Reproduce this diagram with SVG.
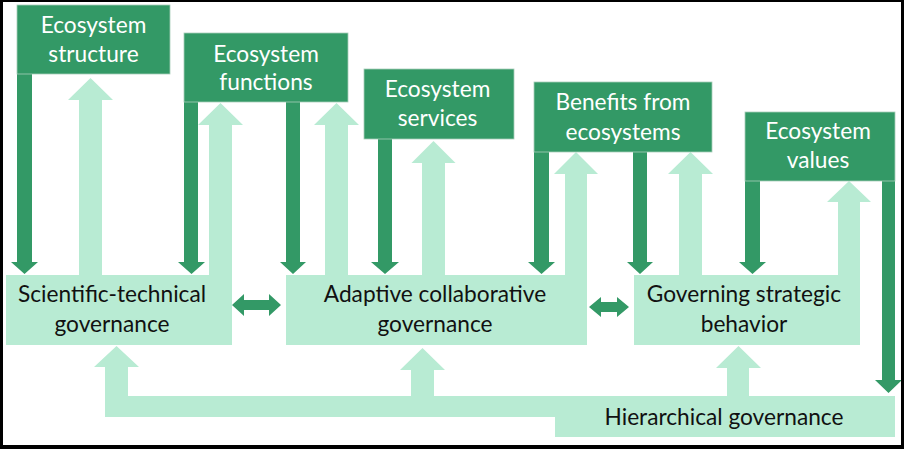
<svg xmlns="http://www.w3.org/2000/svg" width="904" height="449" viewBox="0 0 904 449">
  <style>
    .dark { fill: #339966; }
    .light { fill: #B8EBD3; }
    .box-dark { fill: #339966; stroke: #A9CDB9; stroke-width: 0.8; }
    .box-light { fill: #B8EBD3; }
    text { font-family: Lato, "Open Sans", "Liberation Sans", sans-serif; font-size: 22.7px; text-anchor: middle; }
    .tw { fill: #FFFFFF; }
    .tb { fill: #111111; }
  </style>
  <rect x="0" y="0" width="904" height="449" fill="#FFFFFF"/>

  <g id="connectors">
    <!-- light up arrows -->
    <path class="light" d="M79 275 V100 H68 L90.5 78 L113 100 H102 V275 Z"/>
    <path class="light" d="M209 345 V125 H198 L220.5 103 L243 125 H232 V345 Z"/>
    <path class="light" d="M325 275 V125 H314 L336.5 103 L359 125 H348 V275 Z"/>
    <path class="light" d="M422 275 V163 H411.5 L433.5 141 L455.5 163 H445 V275 Z"/>
    <path class="light" d="M565 275 V174 H554 L576 152 L598 174 H587 V275 Z"/>
    <path class="light" d="M679 275 V174 H668 L690.5 152 L713 174 H702 V275 Z"/>
    <path class="light" d="M838 275 V202 H827 L849 181 L871 202 H860 V275 Z"/>
    <path class="light" d="M105 417 V367 H94 L116.5 346 L139 367 H128 V396 H556 V417 Z"/>
    <path class="light" d="M411 397 V370 H400 L422.5 348 L445 370 H434 V397 Z"/>
    <path class="light" d="M727 397 V368 H716 L738.5 346 L761 368 H749 V397 Z"/>
    <!-- dark down arrows -->
    <path class="dark" d="M17 74 H32 V262 H38 L24.5 274 L11 262 H17 Z"/>
    <path class="dark" d="M184 102 H198 V262 H205 L191.5 274 L178 262 H184 Z"/>
    <path class="dark" d="M286 102 H300 V262 H306 L293 274 L280 262 H286 Z"/>
    <path class="dark" d="M378 139 H392 V262 H399 L385 274 L371 262 H378 Z"/>
    <path class="dark" d="M534 152 H549 V262 H555 L541.5 274 L528 262 H534 Z"/>
    <path class="dark" d="M633 152 H647 V262 H653 L640 274 L627 262 H633 Z"/>
    <path class="dark" d="M745 181 H760 V262 H766 L752.5 274 L739 262 H745 Z"/>
    <path class="dark" d="M882 181 H895 V380 H902 L888.5 393 L875 380 H882 Z"/>
    <!-- double arrows -->
    <path class="dark" d="M232 305 L244 294 V300 H269 V294 L281 305 L269 316 V310 H244 V316 Z"/>
    <path class="dark" d="M589 307 L601 297 V302 H617 V297 L629 307 L617 317 V312 H601 V317 Z"/>
  </g>

  <g id="ecosystem-structure">
    <rect class="box-dark" x="17" y="5" width="153" height="69"/>
    <text class="tw" x="93.5" y="33">Ecosystem</text>
    <text class="tw" x="93.5" y="62">structure</text>
  </g>
  <g id="ecosystem-functions">
    <rect class="box-dark" x="184" y="33" width="164" height="69"/>
    <text class="tw" x="266" y="62">Ecosystem</text>
    <text class="tw" x="266" y="90">functions</text>
  </g>
  <g id="ecosystem-services">
    <rect class="box-dark" x="364" y="69" width="150" height="70"/>
    <text class="tw" x="437.5" y="97">Ecosystem</text>
    <text class="tw" x="437.5" y="126">services</text>
  </g>
  <g id="benefits-from-ecosystems">
    <rect class="box-dark" x="534" y="82" width="178" height="70"/>
    <text class="tw" x="623" y="110">Benefits from</text>
    <text class="tw" x="623" y="140">ecosystems</text>
  </g>
  <g id="ecosystem-values">
    <rect class="box-dark" x="745" y="112" width="150" height="69"/>
    <text class="tw" x="818" y="139">Ecosystem</text>
    <text class="tw" x="818" y="168">values</text>
  </g>

  <g id="scientific-technical-governance">
    <rect class="box-light" x="6" y="275" width="226" height="70"/>
    <text class="tb" x="112" y="302">Scientific-technical</text>
    <text class="tb" x="112" y="332">governance</text>
  </g>
  <g id="adaptive-collaborative-governance">
    <rect class="box-light" x="286" y="275" width="301" height="70"/>
    <text class="tb" x="435" y="302">Adaptive collaborative</text>
    <text class="tb" x="435" y="332">governance</text>
  </g>
  <g id="governing-strategic-behavior">
    <rect class="box-light" x="634" y="275" width="226" height="70"/>
    <text class="tb" x="744" y="302">Governing strategic</text>
    <text class="tb" x="744" y="332">behavior</text>
  </g>
  <g id="hierarchical-governance">
    <rect class="box-light" x="555" y="396" width="340" height="41"/>
    <text class="tb" x="724" y="425">Hierarchical governance</text>
  </g>

  <g id="frame">
    <rect x="0" y="0" width="904" height="2" fill="#000"/>
    <rect x="0" y="0" width="3" height="449" fill="#000"/>
    <rect x="901" y="0" width="3" height="449" fill="#000"/>
    <rect x="0" y="445" width="904" height="4" fill="#000"/>
  </g>
</svg>
